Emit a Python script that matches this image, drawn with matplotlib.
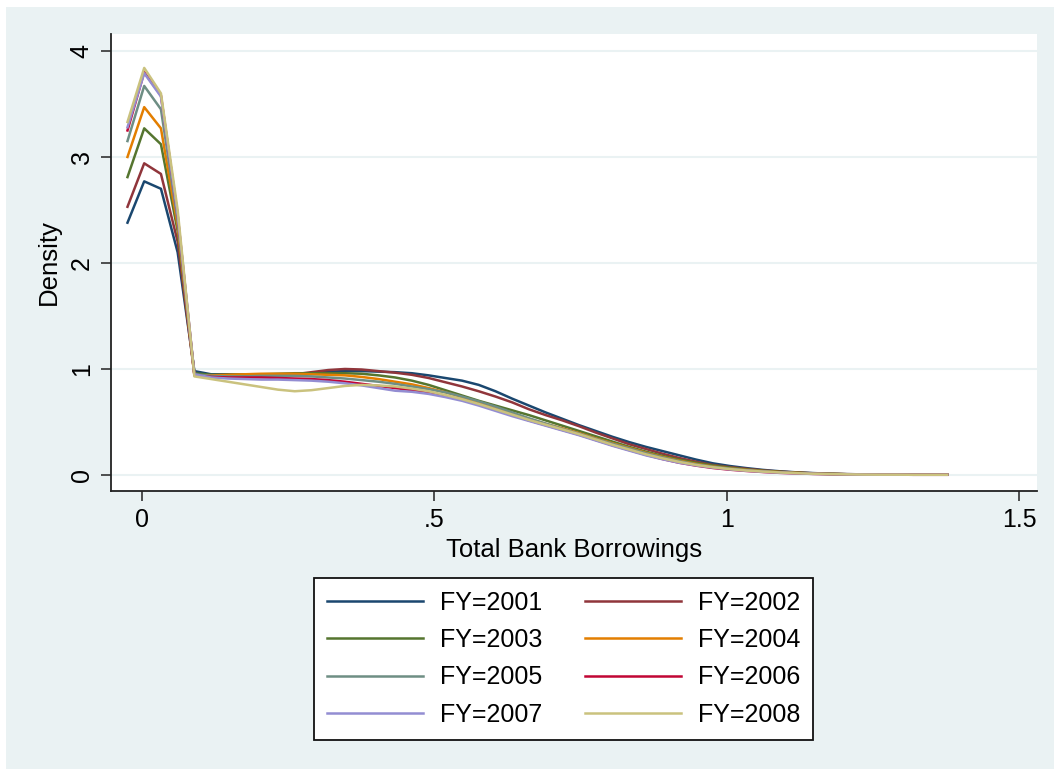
import numpy as np
import matplotlib
matplotlib.use("Agg")
import matplotlib.pyplot as plt
from matplotlib.patches import Rectangle

# ---------------- data ----------------
x_start, x_end, n_points = -0.025, 1.377, 50
grid = np.linspace(x_start, x_end, n_points)

fy2001 = [2.38, 2.77, 2.70, 2.10, 0.98, 0.95, 0.95, 0.945, 0.94, 0.945,
          0.95, 0.96, 0.975, 0.98, 0.98, 0.975, 0.97, 0.96, 0.94, 0.915,
          0.89, 0.85, 0.79, 0.72, 0.655, 0.59, 0.53, 0.47, 0.415, 0.36,
          0.31, 0.265, 0.225, 0.185, 0.145, 0.11, 0.085, 0.065, 0.048, 0.035,
          0.025, 0.018, 0.012, 0.008, 0.006, 0.005, 0.004, 0.003, 0.003, 0.003]
fy2002 = [2.53, 2.94, 2.84, 2.20, 0.95, 0.93, 0.925, 0.925, 0.93, 0.94,
          0.95, 0.97, 0.99, 1.00, 0.995, 0.98, 0.965, 0.945, 0.915, 0.875,
          0.835, 0.79, 0.74, 0.685, 0.62, 0.565, 0.515, 0.46, 0.40, 0.345,
          0.29, 0.245, 0.20, 0.16, 0.125, 0.095, 0.075, 0.058, 0.043, 0.032,
          0.023, 0.016, 0.011, 0.008, 0.006, 0.005, 0.004, 0.003, 0.003, 0.003]
fy2003 = [2.81, 3.27, 3.12, 2.30, 0.96, 0.945, 0.945, 0.95, 0.95, 0.955,
          0.96, 0.96, 0.96, 0.96, 0.955, 0.94, 0.92, 0.89, 0.85, 0.80,
          0.75, 0.70, 0.655, 0.61, 0.565, 0.515, 0.465, 0.415, 0.365, 0.315,
          0.265, 0.22, 0.18, 0.145, 0.115, 0.09, 0.07, 0.053, 0.04, 0.03,
          0.022, 0.015, 0.010, 0.007, 0.005, 0.004, 0.004, 0.003, 0.003, 0.003]
fy2004 = [3.00, 3.47, 3.27, 2.35, 0.94, 0.94, 0.945, 0.95, 0.955, 0.955,
          0.955, 0.95, 0.945, 0.94, 0.925, 0.905, 0.88, 0.855, 0.82, 0.78,
          0.735, 0.685, 0.63, 0.58, 0.53, 0.483, 0.44, 0.395, 0.345, 0.30,
          0.255, 0.21, 0.17, 0.135, 0.105, 0.08, 0.062, 0.048, 0.036, 0.027,
          0.02, 0.014, 0.010, 0.007, 0.005, 0.004, 0.003, 0.003, 0.003, 0.003]
fy2005 = [3.15, 3.67, 3.45, 2.40, 0.95, 0.935, 0.93, 0.93, 0.935, 0.935,
          0.935, 0.93, 0.92, 0.91, 0.895, 0.88, 0.86, 0.835, 0.81, 0.78,
          0.74, 0.695, 0.645, 0.59, 0.535, 0.485, 0.435, 0.39, 0.34, 0.295,
          0.25, 0.205, 0.165, 0.13, 0.10, 0.077, 0.06, 0.045, 0.034, 0.025,
          0.018, 0.013, 0.009, 0.006, 0.005, 0.004, 0.003, 0.003, 0.003, 0.003]
fy2006 = [3.25, 3.80, 3.58, 2.45, 0.94, 0.925, 0.92, 0.92, 0.92, 0.915,
          0.91, 0.905, 0.895, 0.88, 0.86, 0.84, 0.82, 0.80, 0.775, 0.745,
          0.71, 0.665, 0.615, 0.565, 0.515, 0.47, 0.425, 0.38, 0.33, 0.28,
          0.235, 0.19, 0.15, 0.115, 0.088, 0.066, 0.05, 0.038, 0.028, 0.02,
          0.015, 0.010, 0.007, 0.005, 0.004, 0.003, 0.003, 0.002, 0.002, 0.002]
fy2007 = [3.28, 3.79, 3.57, 2.45, 0.95, 0.92, 0.91, 0.905, 0.90, 0.90,
          0.895, 0.89, 0.88, 0.865, 0.845, 0.82, 0.795, 0.785, 0.765, 0.735,
          0.70, 0.655, 0.605, 0.555, 0.51, 0.465, 0.42, 0.375, 0.325, 0.275,
          0.23, 0.185, 0.148, 0.115, 0.09, 0.07, 0.053, 0.04, 0.03, 0.022,
          0.016, 0.011, 0.008, 0.006, 0.004, 0.003, 0.003, 0.002, 0.002, 0.002]
fy2008 = [3.33, 3.84, 3.60, 2.50, 0.93, 0.905, 0.88, 0.855, 0.83, 0.805,
          0.79, 0.80, 0.82, 0.84, 0.85, 0.845, 0.835, 0.815, 0.79, 0.755,
          0.715, 0.67, 0.62, 0.57, 0.52, 0.475, 0.43, 0.385, 0.335, 0.285,
          0.24, 0.195, 0.157, 0.123, 0.095, 0.073, 0.056, 0.042, 0.032, 0.024,
          0.017, 0.012, 0.008, 0.006, 0.004, 0.003, 0.003, 0.002, 0.002, 0.002]

series = [fy2001, fy2002, fy2003, fy2004, fy2005, fy2006, fy2007, fy2008]
labels = ["FY=2001", "FY=2002", "FY=2003", "FY=2004",
          "FY=2005", "FY=2006", "FY=2007", "FY=2008"]
colors = ["#1a476f", "#90353b", "#55752f", "#e37e00",
          "#6e8e84", "#c10534", "#938dd2", "#cac27e"]

x_ticks = [0, 0.5, 1, 1.5]
x_tick_labels = ["0", ".5", "1", "1.5"]
y_ticks = [0, 1, 2, 3, 4]
y_tick_labels = ["0", "1", "2", "3", "4"]

# ---------------- figure ----------------
plt.rcParams["font.family"] = ["Liberation Sans", "DejaVu Sans"]
W, H = 1054, 769
fig = plt.figure(figsize=(W / 100, H / 100), dpi=100, facecolor="white")
bg = "#eaf2f3"
fig.patches.append(Rectangle((6 / W, 0), 1 - 6 / W, 1 - 7 / H,
                             transform=fig.transFigure, facecolor=bg,
                             edgecolor="none", zorder=-10))

ax = fig.add_axes([111 / W, 1 - 491 / H, (1037 - 111) / W, (491 - 34) / H])
ax.set_facecolor("white")

handles = []
for ys, lab, c in zip(series, labels, colors):
    h, = ax.plot(grid, ys, color=c, lw=1.8, label=lab)
    handles.append(h)

ax.set_xlim(-0.0532, 1.5308)
ax.set_ylim(-0.151, 4.16)
ax.set_xticks(x_ticks)
ax.set_xticklabels(x_tick_labels)
ax.set_yticks(y_ticks)
ax.set_yticklabels(y_tick_labels, rotation=90, va="center")
ax.tick_params(axis="both", direction="out", length=7.5, width=1.1,
               color="#222222", labelsize=18, pad=5)
ax.grid(axis="y", color=bg, lw=1.5)
ax.set_axisbelow(True)
for s in ["top", "right"]:
    ax.spines[s].set_visible(False)
for s in ["left", "bottom"]:
    ax.spines[s].set_color("#222222")
    ax.spines[s].set_linewidth(1.3)

ax.set_xlabel("Total Bank Borrowings", fontsize=18.5, labelpad=4)
ax.set_ylabel("Density", fontsize=18.5, labelpad=6)

# row-major ordering for a 2-column legend
order = [0, 2, 4, 6, 1, 3, 5, 7]
leg = fig.legend([handles[i] for i in order], [labels[i] for i in order],
                 loc="upper left", bbox_to_anchor=(314 / W, 1 - 578 / H),
                 ncol=2, fontsize=18, frameon=True, fancybox=False,
                 edgecolor="#111111", facecolor="white", framealpha=1,
                 handlelength=3.84, handletextpad=0.68, columnspacing=1.72,
                 borderpad=0.5, labelspacing=0.54, borderaxespad=0)
leg.get_frame().set_linewidth(1.3)

fig.savefig("out.png", dpi=100, facecolor="white")
